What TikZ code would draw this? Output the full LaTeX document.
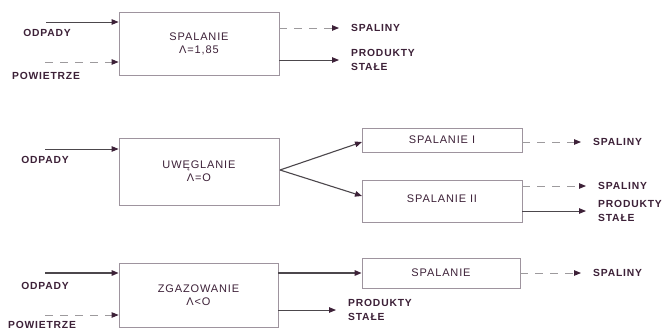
\documentclass[tikz,border=0pt]{standalone}
\usepackage{fontspec}
\setmainfont{Liberation Sans}
\newfontfamily\lblfont[LetterSpace=8]{Liberation Sans}
\usetikzlibrary{arrows.meta}
\definecolor{ink}{rgb}{0.24,0.13,0.22}
\definecolor{wire}{rgb}{0.30,0.28,0.30}
\definecolor{rim}{rgb}{0.62,0.58,0.62}
\tikzset{
  procbox/.style={draw=rim, line width=0.8pt, minimum width=#1, inner sep=0pt,
    text=ink, font=\lblfont\fontsize{11}{13}\selectfont, align=center},
  lbl/.style={text=ink, font=\lblfont\bfseries\fontsize{10.3}{14}\selectfont, inner sep=0pt, align=left},
  flow/.style={draw=wire, line width=0.9pt, -{Triangle[length=7pt,width=5.5pt,color=ink]}},
  thickflow/.style={flow, line width=1.4pt},
  gasflow/.style={flow, draw=wire!55, dash pattern=on 8pt off 7pt},
  tolabel/.style={shorten >=12pt}
}
\begin{document}
\begin{tikzpicture}[x=1pt,y=-1pt]
\useasboundingbox[fill=white] (0,0) rectangle (663,330);

% --- row 1: combustion
\node[procbox=160pt, minimum height=63pt] (b1) at (199,43.5) {SPALANIE\\Λ=1,85};
\node[lbl, anchor=center] (odp1) at (47,33) {ODPADY};
\node[lbl, anchor=center] (pow1) at (46,76) {POWIETRZE};
\coordinate (odp1in) at (46,22);
\coordinate (pow1in) at (45,62);
\node[lbl, anchor=west] (sp1) at (351,28) {SPALINY};
\node[lbl, anchor=west] (ps1) at (351,60) {PRODUKTY\\STAŁE};
\draw[flow] (odp1in) -- (b1.west |- odp1in);
\draw[gasflow] (pow1in) -- (b1.west |- pow1in);
\draw[gasflow, tolabel] (b1.east |- sp1.west) -- (sp1.west);
\draw[flow, tolabel] (b1.east |- ps1.west) -- (ps1.west);

% --- row 2: carbonisation followed by two combustion stages
\node[procbox=160pt, minimum height=67pt] (b2) at (199,171.5) {UWĘGLANIE\\Λ=O};
\node[procbox=160pt, minimum height=24pt] (c1) at (442,140) {SPALANIE I};
\node[procbox=160pt, minimum height=42pt] (c2) at (442,201) {\raisebox{4pt}{SPALANIE II}};
\node[lbl, anchor=center] (odp2) at (45,160) {ODPADY};
\coordinate (odp2in) at (45,149);
\coordinate (fork) at (280,170);
\coordinate (c1in) at (362,142);
\coordinate (c2in) at (362,196);
\node[lbl, anchor=west] (sp2) at (593,142) {SPALINY};
\node[lbl, anchor=west] (sp3) at (598,186) {SPALINY};
\node[lbl, anchor=west] (ps2) at (598,211) {PRODUKTY\\STAŁE};
\draw[flow] (odp2in) -- (b2.west |- odp2in);
\draw[flow, line width=1.1pt] (fork) -- (c1in);
\draw[flow, line width=1.1pt] (fork) -- (c2in);
\draw[gasflow, tolabel] (c1.east |- sp2.west) -- (sp2.west);
\draw[gasflow, tolabel] (c2.east |- sp3.west) -- (sp3.west);
\draw[flow, tolabel] (c2.east |- ps2.west) -- (ps2.west);

% --- row 3: gasification followed by gas combustion
\node[procbox=159pt, minimum height=64pt] (b3) at (198.5,295) {ZGAZOWANIE\\Λ<O};
\node[procbox=158pt, minimum height=30pt] (c3) at (441,273) {SPALANIE};
\node[lbl, anchor=center] (odp3) at (45,286) {ODPADY};
\node[lbl, anchor=center] (pow3) at (42,325) {POWIETRZE};
\coordinate (odp3in) at (45,273);
\coordinate (pow3in) at (45,315);
\node[lbl, anchor=west] (sp4) at (593,273) {SPALINY};
\node[lbl, anchor=west] (ps3) at (348,310) {PRODUKTY\\STAŁE};
\draw[thickflow] (odp3in) -- (b3.west |- odp3in);
\draw[gasflow] (pow3in) -- (b3.west |- pow3in);
\draw[thickflow] (b3.east |- c3.west) -- (c3.west);
\draw[gasflow, tolabel] (c3.east |- sp4.west) -- (sp4.west);
\draw[flow, tolabel] (b3.east |- ps3.west) -- (ps3.west);
\end{tikzpicture}
\end{document}
